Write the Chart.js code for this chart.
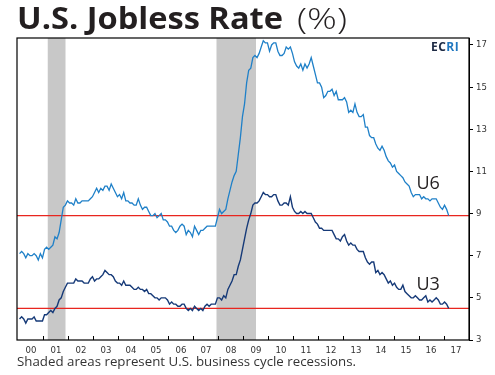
<!DOCTYPE html>
<html>
<head>
<meta charset="utf-8">
<script src="https://cdn.jsdelivr.net/npm/chart.js@4.4.1/dist/chart.umd.min.js"></script>
<style>
  html, body { margin: 0; padding: 0; background: #fff; }
  #wrap { position: relative; width: 495px; height: 375px; }
  .txt { position: absolute; font-family: "Open Sans", "Lato", sans-serif; color: #231f20; white-space: nowrap; transform-origin: 0 0; line-height: 1; }
  #t1 { left: 17px; top: 3px; font-size: 30px; font-weight: 700; }
  #t2 { left: 297px; top: 3px; font-size: 30px; font-weight: 300; }
  #note { left: 17px; top: 356px; font-size: 12.5px; color: #333; }
  canvas { position: absolute; left: 0; top: 0; }
</style>
</head>
<body>
<div id="wrap">
  <canvas id="chart" width="495" height="375"></canvas>
  <div class="txt" id="t1" data-w="266">U.S. Jobless Rate</div>
  <div class="txt" id="t2" data-w="50">(%)</div>
  <div class="txt" id="note" data-w="339">Shaded areas represent U.S. business cycle recessions.</div>
</div>
<script>
// monthly rates, Jan 2000 .. Mar 2017
const u3 = [
  4.0, 4.1, 4.0, 3.8, 4.0, 4.0, 4.0, 4.1, 3.9, 3.9, 3.9, 3.9,
  4.2, 4.2, 4.3, 4.4, 4.3, 4.5, 4.6, 4.9, 5.0, 5.3, 5.5, 5.7,
  5.7, 5.7, 5.7, 5.9, 5.8, 5.8, 5.8, 5.7, 5.7, 5.7, 5.9, 6.0,
  5.8, 5.9, 5.9, 6.0, 6.1, 6.3, 6.2, 6.1, 6.1, 6.0, 5.8, 5.7,
  5.7, 5.6, 5.8, 5.6, 5.6, 5.6, 5.5, 5.4, 5.4, 5.5, 5.4, 5.4,
  5.3, 5.4, 5.2, 5.2, 5.1, 5.0, 5.0, 4.9, 5.0, 5.0, 5.0, 4.9,
  4.7, 4.8, 4.7, 4.7, 4.6, 4.6, 4.7, 4.7, 4.5, 4.4, 4.5, 4.4,
  4.6, 4.5, 4.4, 4.5, 4.4, 4.6, 4.7, 4.6, 4.7, 4.7, 4.7, 5.0,
  5.0, 4.9, 5.1, 5.0, 5.4, 5.6, 5.8, 6.1, 6.1, 6.5, 6.8, 7.3,
  7.8, 8.3, 8.7, 9.0, 9.4, 9.5, 9.5, 9.6, 9.8, 10.0, 9.9, 9.9,
  9.8, 9.8, 9.9, 9.9, 9.6, 9.4, 9.4, 9.5, 9.5, 9.4, 9.8, 9.3,
  9.1, 9.0, 9.0, 9.1, 9.0, 9.1, 9.0, 9.0, 9.0, 8.8, 8.6, 8.5,
  8.3, 8.3, 8.2, 8.2, 8.2, 8.2, 8.2, 8.0, 7.8, 7.8, 7.7, 7.9,
  8.0, 7.7, 7.5, 7.6, 7.5, 7.5, 7.3, 7.2, 7.2, 7.2, 6.9, 6.7,
  6.6, 6.7, 6.7, 6.2, 6.3, 6.1, 6.2, 6.1, 5.9, 5.7, 5.8, 5.6,
  5.7, 5.5, 5.4, 5.4, 5.6, 5.3, 5.2, 5.1, 5.0, 5.0, 5.1, 5.0,
  4.9, 4.9, 5.0, 5.1, 4.8, 4.9, 4.8, 4.9, 5.0, 4.9, 4.7, 4.7,
  4.8, 4.7, 4.5
];
const u6 = [
  7.1, 7.2, 7.1, 6.9, 7.1, 7.0, 7.0, 7.1, 7.0, 6.8, 7.1, 6.9,
  7.3, 7.4, 7.3, 7.4, 7.5, 7.9, 7.8, 8.1, 8.7, 9.3, 9.4, 9.6,
  9.5, 9.5, 9.4, 9.7, 9.5, 9.5, 9.6, 9.6, 9.6, 9.6, 9.7, 9.8,
  10.0, 10.2, 10.0, 10.2, 10.1, 10.3, 10.3, 10.1, 10.4, 10.2, 10.0, 9.8,
  9.9, 9.7, 10.0, 9.6, 9.6, 9.5, 9.5, 9.4, 9.4, 9.7, 9.4, 9.2,
  9.3, 9.3, 9.1, 8.9, 8.9, 9.0, 8.8, 8.9, 9.0, 8.7, 8.7, 8.6,
  8.4, 8.4, 8.2, 8.1, 8.2, 8.4, 8.5, 8.4, 8.0, 8.2, 8.1, 7.9,
  8.4, 8.2, 8.0, 8.2, 8.2, 8.3, 8.4, 8.4, 8.4, 8.4, 8.4, 8.8,
  9.2, 9.0, 9.1, 9.2, 9.7, 10.1, 10.5, 10.8, 11.0, 11.8, 12.6, 13.6,
  14.2, 15.2, 15.8, 15.9, 16.4, 16.5, 16.4, 16.6, 16.9, 17.2, 17.1, 17.1,
  16.7, 17.0, 17.1, 17.1, 16.7, 16.5, 16.5, 16.6, 16.9, 16.8, 16.9, 16.6,
  16.2, 16.0, 15.9, 16.1, 15.8, 16.1, 15.9, 16.1, 16.4, 16.0, 15.6, 15.2,
  15.2, 15.0, 14.5, 14.6, 14.8, 14.8, 14.9, 14.6, 14.8, 14.4, 14.4, 14.4,
  14.5, 14.3, 13.8, 13.9, 13.8, 14.2, 13.8, 13.6, 13.6, 13.7, 13.1, 13.1,
  12.7, 12.6, 12.6, 12.3, 12.1, 12.0, 12.2, 12.0, 11.7, 11.5, 11.4, 11.2,
  11.3, 11.0, 10.9, 10.8, 10.7, 10.5, 10.4, 10.3, 10.0, 9.8, 9.9, 9.9,
  9.9, 9.7, 9.8, 9.7, 9.7, 9.6, 9.7, 9.7, 9.7, 9.5, 9.3, 9.2,
  9.4, 9.2, 8.9
];
const startYear = 2000;
const xTickLabels = ['00','01','02','03','04','05','06','07','08','09','10','11','12','13','14','15','16','17'];
const yTicks = [3, 5, 7, 9, 11, 13, 15, 17];
const recessions = [[2001.17, 2001.88], [2007.92, 2009.5]];
const latestU6 = 8.9;
const latestU3 = 4.5;
const seriesLabels = [{ text: 'U6', x: 2015.92, y: 10.4 }, { text: 'U3', x: 2015.92, y: 5.6 }];

const xMin = 1999.94, xMax = 2018.02;
const toPoints = arr => arr.map((v, i) => ({ x: startYear + (i + 0.5) / 12, y: v }));

// stretch the html texts to the widths seen in the original
document.querySelectorAll('.txt').forEach(el => {
  const w = el.getBoundingClientRect().width;
  el.style.transform = 'scaleX(' + (el.dataset.w / w) + ')';
});

const frame = {
  id: 'frame',
  beforeDatasetsDraw(chart) {
    const { ctx, chartArea: a, scales: { x } } = chart;
    ctx.save();
    ctx.fillStyle = '#c8c8c8';
    recessions.forEach(([s, e]) => {
      const x0 = x.getPixelForValue(s), x1 = x.getPixelForValue(e);
      ctx.fillRect(x0, a.top, x1 - x0, a.bottom - a.top);
    });
    ctx.restore();
  },
  afterDraw(chart) {
    const { ctx, chartArea: a, scales: { x, y } } = chart;
    ctx.save();
    ctx.strokeStyle = '#000';
    ctx.lineWidth = 1.2;
    ctx.strokeRect(a.left, a.top, a.right - a.left, a.bottom - a.top);
    ctx.lineWidth = 1;
    for (let yr = startYear + 1; yr <= 2017; yr++) {
      const px = Math.round(x.getPixelForValue(yr)) + 0.5;
      ctx.beginPath();
      ctx.moveTo(px, a.bottom);
      ctx.lineTo(px, a.bottom - 4);
      ctx.stroke();
    }
    // ECRI mark
    ctx.font = 'bold 12px "Open Sans", "Lato", sans-serif';
    ctx.textBaseline = 'middle';
    ctx.textAlign = 'left';
    let tx = a.right - 38, ty = a.top + 10;
    [['E', '#1d2a44'], ['C', '#1d2a44'], ['R', '#1f77c0'], ['I', '#1f77c0']].forEach(([c, col]) => {
      ctx.fillStyle = col;
      ctx.fillText(c, tx, ty);
      tx += ctx.measureText(c).width + 0.5;
    });
    // series names
    ctx.font = '18px "Open Sans", "Lato", sans-serif';
    ctx.fillStyle = '#231f20';
    seriesLabels.forEach(l => ctx.fillText(l.text, x.getPixelForValue(l.x), y.getPixelForValue(l.y)));
    ctx.restore();
  }
};

new Chart(document.getElementById('chart'), {
  type: 'line',
  data: {
    datasets: [
      { label: 'U6', data: toPoints(u6), borderColor: '#1f80c8', borderWidth: 1.3, pointRadius: 0, tension: 0 },
      { label: 'U3', data: toPoints(u3), borderColor: '#163a78', borderWidth: 1.4, pointRadius: 0, tension: 0 },
      { label: 'U6 now', data: [{ x: xMin, y: latestU6 }, { x: xMax, y: latestU6 }], borderColor: '#e8251f', borderWidth: 1.1, pointRadius: 0 },
      { label: 'U3 now', data: [{ x: xMin, y: latestU3 }, { x: xMax, y: latestU3 }], borderColor: '#e8251f', borderWidth: 1.1, pointRadius: 0 }
    ]
  },
  options: {
    responsive: false,
    animation: false,
    layout: { padding: { left: 17, top: 38, right: 0, bottom: 15 } },
    plugins: { legend: { display: false }, tooltip: { enabled: false } },
    scales: {
      x: {
        type: 'linear',
        min: xMin,
        max: xMax,
        grid: { display: false, drawTicks: false },
        border: { display: false },
        afterBuildTicks: s => { s.ticks = xTickLabels.map((_, i) => ({ value: startYear + i + 0.5 })); },
        afterFit: s => { s.height = 20; },
        ticks: {
          autoSkip: false,
          maxRotation: 0,
          padding: 5,
          color: '#333',
          font: { family: '"DejaVu Sans Condensed", "Liberation Sans Narrow", sans-serif', size: 9.5 },
          callback: v => xTickLabels[Math.floor(v) - startYear]
        }
      },
      y: {
        position: 'right',
        min: 3,
        max: 17.33,
        afterBuildTicks: s => { s.ticks = yTicks.map(v => ({ value: v })); },
        afterFit: s => { s.width = 26; },
        grid: { drawOnChartArea: false, drawTicks: true, tickLength: 4, color: '#000' },
        border: { display: true, color: '#000' },
        ticks: {
          padding: 3,
          color: '#333',
          font: { family: '"DejaVu Sans Condensed", "Liberation Sans Narrow", sans-serif', size: 9.5 }
        }
      }
    }
  },
  plugins: [frame]
});
</script>
</body>
</html>
